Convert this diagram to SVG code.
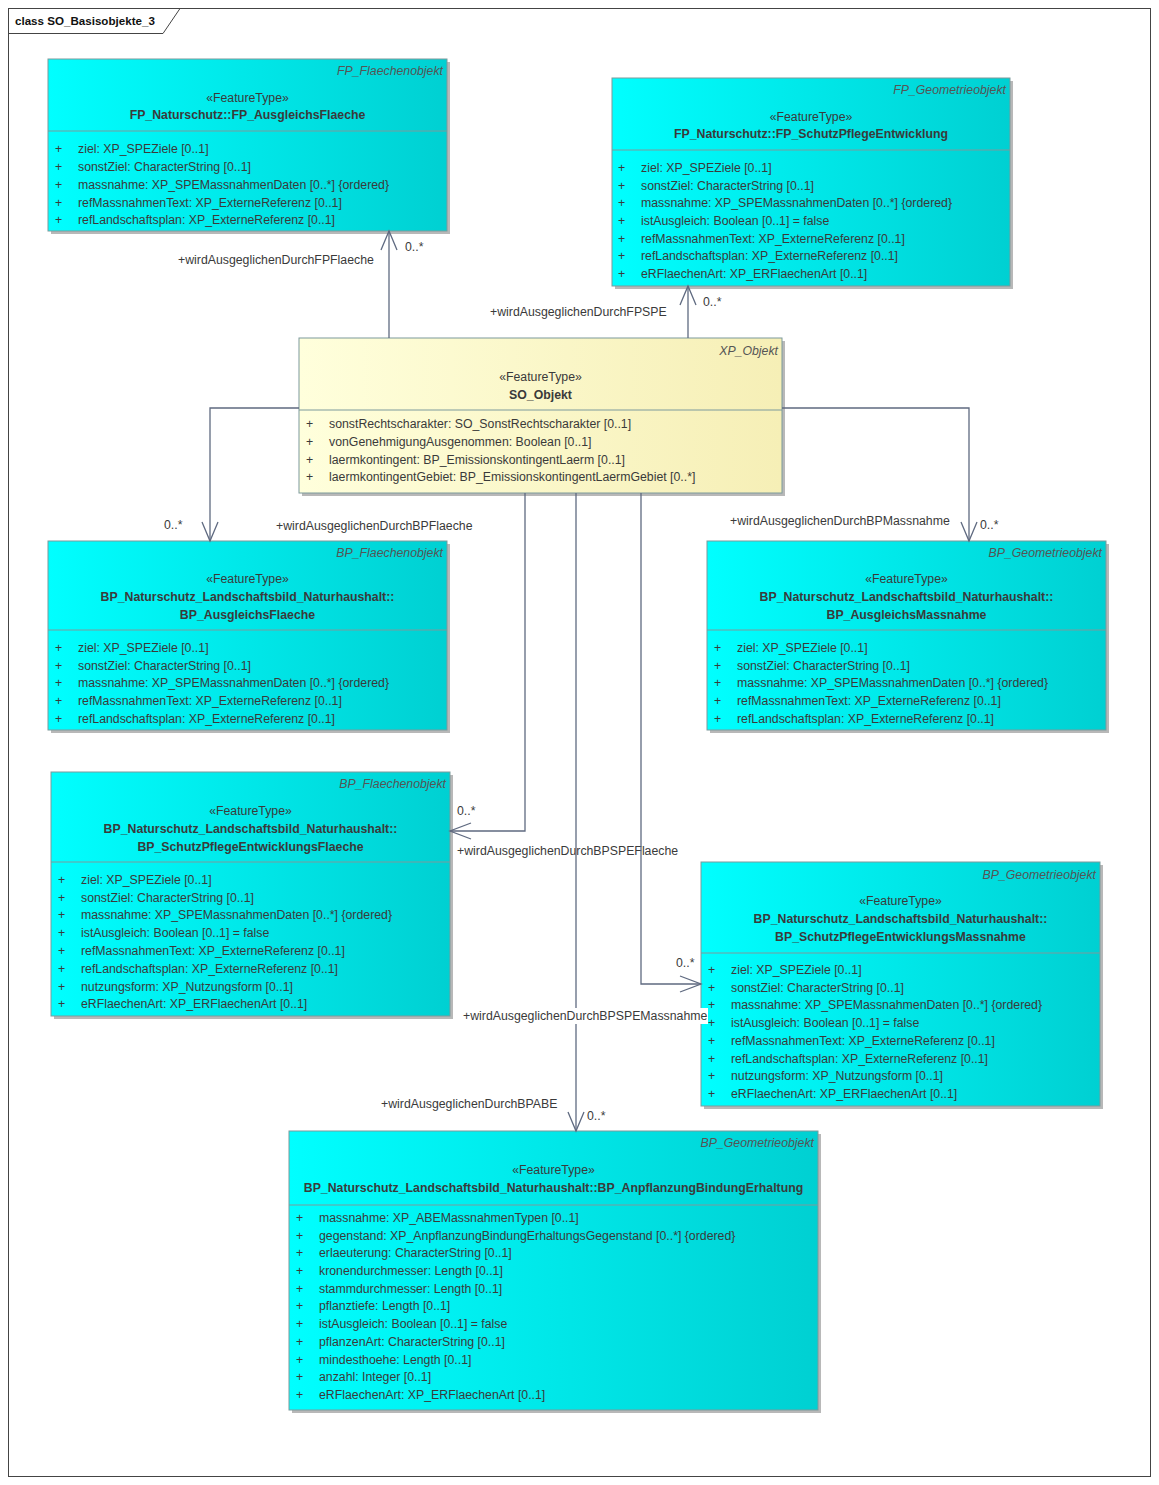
<svg xmlns="http://www.w3.org/2000/svg" width="1159" height="1485" viewBox="0 0 1159 1485">
<style>
text{font-family:"Liberation Sans",Arial,sans-serif;font-size:12.3px;fill:#3a3a3a}
.it{font-style:italic;text-anchor:end;fill:#555}
.st{text-anchor:middle}
.nm{text-anchor:middle;font-weight:bold}
.box{stroke:#7d9a9c;stroke-width:1}
.cy{fill:url(#gc)}
.ye{fill:url(#gy)}
.sh{fill:#b8b8b8}
.sep{stroke:#7d9a9c;stroke-width:1}
.con{fill:none;stroke:#5f6a80;stroke-width:1.3}
.lbl{fill:#3a3a3a}
</style>
<defs>
<linearGradient id="gc" x1="0" y1="0" x2="1" y2="0"><stop offset="0" stop-color="#00ffff"/><stop offset="1" stop-color="#00d0d2"/></linearGradient>
<linearGradient id="gy" x1="0" y1="0" x2="1" y2="0"><stop offset="0" stop-color="#ffffdc"/><stop offset="1" stop-color="#f6efb6"/></linearGradient>
</defs>
<rect x="0" y="0" width="1159" height="1485" fill="#fff"/>
<g id="frame">
<rect x="8.5" y="8.5" width="1142" height="1468" fill="none" stroke="#444" stroke-width="1"/>
<path d="M8.5 33.5 H163 L180 8.5" fill="none" stroke="#444" stroke-width="1"/>
<text x="15" y="25" style="fill:#111;font-weight:bold;font-size:11.6px">class SO_Basisobjekte_3</text>
</g>

<g id="n_fp_ausgleich">
<rect class="sh" x="51" y="62" width="399" height="172"/>
<rect class="box cy" x="48" y="59" width="399" height="172"/>
<line class="sep" x1="48" y1="131" x2="447" y2="131"/>
<text class="it" x="443" y="75">FP_Flaechenobjekt</text>
<text class="st" x="247.5" y="102">«FeatureType»</text>
<text class="nm" x="247.5" y="119">FP_Naturschutz::FP_AusgleichsFlaeche</text>
<text x="55" y="153">+</text><text x="78" y="153">ziel: XP_SPEZiele [0..1]</text>
<text x="55" y="171">+</text><text x="78" y="171">sonstZiel: CharacterString [0..1]</text>
<text x="55" y="189">+</text><text x="78" y="189">massnahme: XP_SPEMassnahmenDaten [0..*] {ordered}</text>
<text x="55" y="207">+</text><text x="78" y="207">refMassnahmenText: XP_ExterneReferenz [0..1]</text>
<text x="55" y="224">+</text><text x="78" y="224">refLandschaftsplan: XP_ExterneReferenz [0..1]</text>
</g>

<g id="n_fp_spe">
<rect class="sh" x="615" y="81" width="398" height="208"/>
<rect class="box cy" x="612" y="78" width="398" height="208"/>
<line class="sep" x1="612" y1="150" x2="1010" y2="150"/>
<text class="it" x="1006" y="94">FP_Geometrieobjekt</text>
<text class="st" x="811" y="121">«FeatureType»</text>
<text class="nm" x="811" y="138">FP_Naturschutz::FP_SchutzPflegeEntwicklung</text>
<text x="618" y="172">+</text><text x="641" y="172">ziel: XP_SPEZiele [0..1]</text>
<text x="618" y="190">+</text><text x="641" y="190">sonstZiel: CharacterString [0..1]</text>
<text x="618" y="207">+</text><text x="641" y="207">massnahme: XP_SPEMassnahmenDaten [0..*] {ordered}</text>
<text x="618" y="225">+</text><text x="641" y="225">istAusgleich: Boolean [0..1] = false</text>
<text x="618" y="243">+</text><text x="641" y="243">refMassnahmenText: XP_ExterneReferenz [0..1]</text>
<text x="618" y="260">+</text><text x="641" y="260">refLandschaftsplan: XP_ExterneReferenz [0..1]</text>
<text x="618" y="278">+</text><text x="641" y="278">eRFlaechenArt: XP_ERFlaechenArt [0..1]</text>
</g>

<g id="n_so_objekt">
<rect class="sh" x="302" y="341" width="483" height="155"/>
<rect class="box ye" x="299" y="338" width="483" height="155"/>
<line class="sep" x1="299" y1="410" x2="782" y2="410"/>
<text class="it" x="778" y="355">XP_Objekt</text>
<text class="st" x="540.5" y="381">«FeatureType»</text>
<text class="nm" x="540.5" y="399">SO_Objekt</text>
<text x="306" y="428">+</text><text x="329" y="428">sonstRechtscharakter: SO_SonstRechtscharakter [0..1]</text>
<text x="306" y="446">+</text><text x="329" y="446">vonGenehmigungAusgenommen: Boolean [0..1]</text>
<text x="306" y="464">+</text><text x="329" y="464">laermkontingent: BP_EmissionskontingentLaerm [0..1]</text>
<text x="306" y="481">+</text><text x="329" y="481">laermkontingentGebiet: BP_EmissionskontingentLaermGebiet [0..*]</text>
</g>

<g id="n_bp_ausgleichsflaeche">
<rect class="sh" x="51" y="544" width="399" height="189"/>
<rect class="box cy" x="48" y="541" width="399" height="189"/>
<line class="sep" x1="48" y1="630" x2="447" y2="630"/>
<text class="it" x="443" y="557">BP_Flaechenobjekt</text>
<text class="st" x="247.5" y="583">«FeatureType»</text>
<text class="nm" x="247.5" y="601">BP_Naturschutz_Landschaftsbild_Naturhaushalt::</text>
<text class="nm" x="247.5" y="619">BP_AusgleichsFlaeche</text>
<text x="55" y="652">+</text><text x="78" y="652">ziel: XP_SPEZiele [0..1]</text>
<text x="55" y="670">+</text><text x="78" y="670">sonstZiel: CharacterString [0..1]</text>
<text x="55" y="687">+</text><text x="78" y="687">massnahme: XP_SPEMassnahmenDaten [0..*] {ordered}</text>
<text x="55" y="705">+</text><text x="78" y="705">refMassnahmenText: XP_ExterneReferenz [0..1]</text>
<text x="55" y="723">+</text><text x="78" y="723">refLandschaftsplan: XP_ExterneReferenz [0..1]</text>
</g>

<g id="n_bp_ausgleichsmassnahme">
<rect class="sh" x="710" y="544" width="399" height="189"/>
<rect class="box cy" x="707" y="541" width="399" height="189"/>
<line class="sep" x1="707" y1="630" x2="1106" y2="630"/>
<text class="it" x="1102" y="557">BP_Geometrieobjekt</text>
<text class="st" x="906.5" y="583">«FeatureType»</text>
<text class="nm" x="906.5" y="601">BP_Naturschutz_Landschaftsbild_Naturhaushalt::</text>
<text class="nm" x="906.5" y="619">BP_AusgleichsMassnahme</text>
<text x="714" y="652">+</text><text x="737" y="652">ziel: XP_SPEZiele [0..1]</text>
<text x="714" y="670">+</text><text x="737" y="670">sonstZiel: CharacterString [0..1]</text>
<text x="714" y="687">+</text><text x="737" y="687">massnahme: XP_SPEMassnahmenDaten [0..*] {ordered}</text>
<text x="714" y="705">+</text><text x="737" y="705">refMassnahmenText: XP_ExterneReferenz [0..1]</text>
<text x="714" y="723">+</text><text x="737" y="723">refLandschaftsplan: XP_ExterneReferenz [0..1]</text>
</g>

<g id="n_bp_spe_flaeche">
<rect class="sh" x="54" y="775" width="399" height="244"/>
<rect class="box cy" x="51" y="772" width="399" height="244"/>
<line class="sep" x1="51" y1="862" x2="450" y2="862"/>
<text class="it" x="446" y="788">BP_Flaechenobjekt</text>
<text class="st" x="250.5" y="815">«FeatureType»</text>
<text class="nm" x="250.5" y="833">BP_Naturschutz_Landschaftsbild_Naturhaushalt::</text>
<text class="nm" x="250.5" y="851">BP_SchutzPflegeEntwicklungsFlaeche</text>
<text x="58" y="884">+</text><text x="81" y="884">ziel: XP_SPEZiele [0..1]</text>
<text x="58" y="902">+</text><text x="81" y="902">sonstZiel: CharacterString [0..1]</text>
<text x="58" y="919">+</text><text x="81" y="919">massnahme: XP_SPEMassnahmenDaten [0..*] {ordered}</text>
<text x="58" y="937">+</text><text x="81" y="937">istAusgleich: Boolean [0..1] = false</text>
<text x="58" y="955">+</text><text x="81" y="955">refMassnahmenText: XP_ExterneReferenz [0..1]</text>
<text x="58" y="973">+</text><text x="81" y="973">refLandschaftsplan: XP_ExterneReferenz [0..1]</text>
<text x="58" y="991">+</text><text x="81" y="991">nutzungsform: XP_Nutzungsform [0..1]</text>
<text x="58" y="1008">+</text><text x="81" y="1008">eRFlaechenArt: XP_ERFlaechenArt [0..1]</text>
</g>

<g id="n_bp_spe_massnahme">
<rect class="sh" x="704" y="865" width="399" height="244"/>
<rect class="box cy" x="701" y="862" width="399" height="244"/>
<line class="sep" x1="701" y1="953" x2="1100" y2="953"/>
<text class="it" x="1096" y="879">BP_Geometrieobjekt</text>
<text class="st" x="900.5" y="905">«FeatureType»</text>
<text class="nm" x="900.5" y="923">BP_Naturschutz_Landschaftsbild_Naturhaushalt::</text>
<text class="nm" x="900.5" y="941">BP_SchutzPflegeEntwicklungsMassnahme</text>
<text x="708" y="974">+</text><text x="731" y="974">ziel: XP_SPEZiele [0..1]</text>
<text x="708" y="992">+</text><text x="731" y="992">sonstZiel: CharacterString [0..1]</text>
<text x="708" y="1009">+</text><text x="731" y="1009">massnahme: XP_SPEMassnahmenDaten [0..*] {ordered}</text>
<text x="708" y="1027">+</text><text x="731" y="1027">istAusgleich: Boolean [0..1] = false</text>
<text x="708" y="1045">+</text><text x="731" y="1045">refMassnahmenText: XP_ExterneReferenz [0..1]</text>
<text x="708" y="1063">+</text><text x="731" y="1063">refLandschaftsplan: XP_ExterneReferenz [0..1]</text>
<text x="708" y="1080">+</text><text x="731" y="1080">nutzungsform: XP_Nutzungsform [0..1]</text>
<text x="708" y="1098">+</text><text x="731" y="1098">eRFlaechenArt: XP_ERFlaechenArt [0..1]</text>
</g>

<g id="n_bp_abe">
<rect class="sh" x="292" y="1134" width="529" height="279"/>
<rect class="box cy" x="289" y="1131" width="529" height="279"/>
<line class="sep" x1="289" y1="1205" x2="818" y2="1205"/>
<text class="it" x="814" y="1147">BP_Geometrieobjekt</text>
<text class="st" x="553.5" y="1174">«FeatureType»</text>
<text class="nm" x="553.5" y="1192">BP_Naturschutz_Landschaftsbild_Naturhaushalt::BP_AnpflanzungBindungErhaltung</text>
<text x="296" y="1222">+</text><text x="319" y="1222">massnahme: XP_ABEMassnahmenTypen [0..1]</text>
<text x="296" y="1240">+</text><text x="319" y="1240">gegenstand: XP_AnpflanzungBindungErhaltungsGegenstand [0..*] {ordered}</text>
<text x="296" y="1257">+</text><text x="319" y="1257">erlaeuterung: CharacterString [0..1]</text>
<text x="296" y="1275">+</text><text x="319" y="1275">kronendurchmesser: Length [0..1]</text>
<text x="296" y="1293">+</text><text x="319" y="1293">stammdurchmesser: Length [0..1]</text>
<text x="296" y="1310">+</text><text x="319" y="1310">pflanztiefe: Length [0..1]</text>
<text x="296" y="1328">+</text><text x="319" y="1328">istAusgleich: Boolean [0..1] = false</text>
<text x="296" y="1346">+</text><text x="319" y="1346">pflanzenArt: CharacterString [0..1]</text>
<text x="296" y="1364">+</text><text x="319" y="1364">mindesthoehe: Length [0..1]</text>
<text x="296" y="1381">+</text><text x="319" y="1381">anzahl: Integer [0..1]</text>
<text x="296" y="1399">+</text><text x="319" y="1399">eRFlaechenArt: XP_ERFlaechenArt [0..1]</text>
</g>

<g id="connectors">
<path class="con" d="M389 338 V231"/>
<path class="con" d="M381 250 L389 231 L397 250"/>
<text class="lbl" x="178" y="264">+wirdAusgeglichenDurchFPFlaeche</text>
<text class="lbl" x="405" y="251">0..*</text>
<path class="con" d="M688 338 V286"/>
<path class="con" d="M680 305 L688 286 L696 305"/>
<text class="lbl" x="490" y="316">+wirdAusgeglichenDurchFPSPE</text>
<text class="lbl" x="703" y="306">0..*</text>
<path class="con" d="M299 408 H210 V541"/>
<path class="con" d="M202 522 L210 541 L218 522"/>
<text class="lbl" x="164" y="529">0..*</text>
<text class="lbl" x="276" y="530">+wirdAusgeglichenDurchBPFlaeche</text>
<path class="con" d="M782 408 H969 V541"/>
<path class="con" d="M961 522 L969 541 L977 522"/>
<text class="lbl" x="730" y="525">+wirdAusgeglichenDurchBPMassnahme</text>
<text class="lbl" x="980" y="529">0..*</text>
<path class="con" d="M525 493 V831 H450"/>
<path class="con" d="M471 823 L450 831 L471 839"/>
<text class="lbl" x="457" y="815">0..*</text>
<text class="lbl" x="457" y="855">+wirdAusgeglichenDurchBPSPEFlaeche</text>
<path class="con" d="M641 493 V984 H701"/>
<path class="con" d="M680 976 L701 984 L680 992"/>
<text class="lbl" x="676" y="967">0..*</text>
<path class="con" d="M576 493 V1131"/>
<path class="con" d="M568 1112 L576 1131 L584 1112"/>
<rect x="461" y="1008" width="247" height="16" fill="#fff"/>
<text class="lbl" x="463" y="1020">+wirdAusgeglichenDurchBPSPEMassnahme</text>
<text class="lbl" x="381" y="1108">+wirdAusgeglichenDurchBPABE</text>
<text class="lbl" x="587" y="1120">0..*</text>
</g>
</svg>
